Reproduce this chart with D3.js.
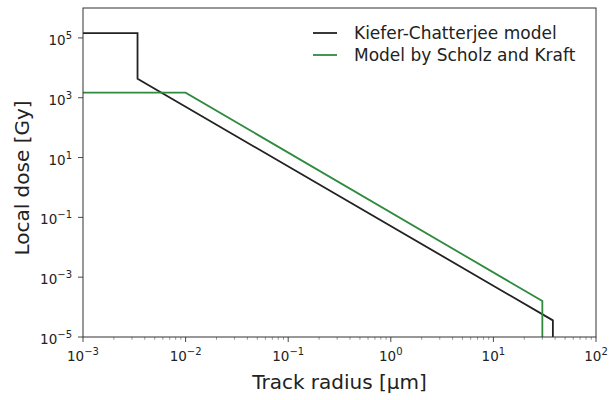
<!DOCTYPE html>
<html><head><meta charset="utf-8">
<script src="https://cdn.jsdelivr.net/npm/d3@7"></script>
<style>body{margin:0;background:#fff;} svg{display:block;font-family:"DejaVu Sans",sans-serif;}</style>
</head><body><svg id="c" width="610" height="400"></svg>
<script>
// Data (corner points)
const kcRadius = [1e-3, 3.4e-3, 3.4e-3, 38, 38];
const kcDose   = [1.45e5, 1.45e5, 4.3e3, 3.6e-5, 1e-7];
const skRadius = [1e-3, 1e-2, 30, 30];
const skDose   = [1.47e3, 1.47e3, 1.6e-4, 1e-7];
const seriesNames = ["Kiefer-Chatterjee model", "Model by Scholz and Kraft"];
const xTickExps = [-3, -2, -1, 0, 1, 2];
const yTickExps = [-5, -3, -1, 1, 3, 5];

const svg = d3.select("#c");
const L = 83, R = 596, T = 8, B = 337;
const x = d3.scaleLog().domain([1e-3, 1e2]).range([L, R]);
const y = d3.scaleLog().domain([1e-5, 1e6]).range([B, T]);

svg.append("defs").append("clipPath").attr("id","clip")
  .append("rect").attr("x",L).attr("y",T).attr("width",R-L).attr("height",B-T);

const g = svg.append("g");
for (let e = -3; e < 2; e++) {
  for (let m = 2; m <= 9; m++) {
    const v = m * Math.pow(10, e);
    g.append("line").attr("x1", x(v)).attr("x2", x(v)).attr("y1", B).attr("y2", B + 2.8)
      .attr("stroke", "#555").attr("stroke-width", 0.6);
  }
}
xTickExps.forEach(e => {
  const v = Math.pow(10, e);
  g.append("line").attr("x1", x(v)).attr("x2", x(v)).attr("y1", B).attr("y2", B + 5)
    .attr("stroke", "#333").attr("stroke-width", 0.9);
  const t = g.append("text").attr("x", x(v)).attr("y", B + 24).attr("text-anchor", "middle")
    .attr("font-size", 13.5).attr("fill", "#222");
  t.append("tspan").text("10");
  t.append("tspan").attr("dy", -6).attr("font-size", 10).text(e < 0 ? "\u2212" + (-e) : e);
});
yTickExps.forEach(e => {
  const v = Math.pow(10, e);
  g.append("line").attr("x1", L - 5).attr("x2", L).attr("y1", y(v)).attr("y2", y(v))
    .attr("stroke", "#333").attr("stroke-width", 0.9);
  const t = g.append("text").attr("x", L - 11).attr("y", y(v) + 7).attr("text-anchor", "end")
    .attr("font-size", 13.5).attr("fill", "#222");
  t.append("tspan").text("10");
  t.append("tspan").attr("dy", -6).attr("font-size", 10).text(e < 0 ? "\u2212" + (-e) : e);
});

const line = d3.line().x(d => x(d[0])).y(d => y(d[1]));
const series = [
  {pts: d3.zip(kcRadius, kcDose), color: "#222222"},
  {pts: d3.zip(skRadius, skDose), color: "#2e8a3c"}
];
const pg = svg.append("g").attr("clip-path", "url(#clip)");
series.forEach(s => {
  pg.append("path").attr("d", line(s.pts)).attr("fill", "none")
    .attr("stroke", s.color).attr("stroke-width", 1.8).attr("stroke-linejoin","miter");
});

svg.append("rect").attr("x", L).attr("y", T).attr("width", R - L).attr("height", B - T)
  .attr("fill", "none").attr("stroke", "#333").attr("stroke-width", 1);

series.forEach((s, i) => {
  const ly = 33 + i * 22;
  svg.append("line").attr("x1", 313).attr("x2", 337).attr("y1", ly).attr("y2", ly)
    .attr("stroke", s.color).attr("stroke-width", 1.8);
  svg.append("text").attr("x", 354).attr("y", ly + 6).attr("font-size", 17)
    .attr("fill", "#222").text(seriesNames[i]);
});

svg.append("text").attr("x", (L + R) / 2).attr("y", 389).attr("text-anchor", "middle")
  .attr("font-size", 20).attr("fill", "#222").text("Track radius [\u03bcm]");
svg.append("text").attr("transform", `translate(29,178) rotate(-90)`)
  .attr("text-anchor", "middle").attr("font-size", 20).attr("fill", "#222").text("Local dose [Gy]");
</script></body></html>
